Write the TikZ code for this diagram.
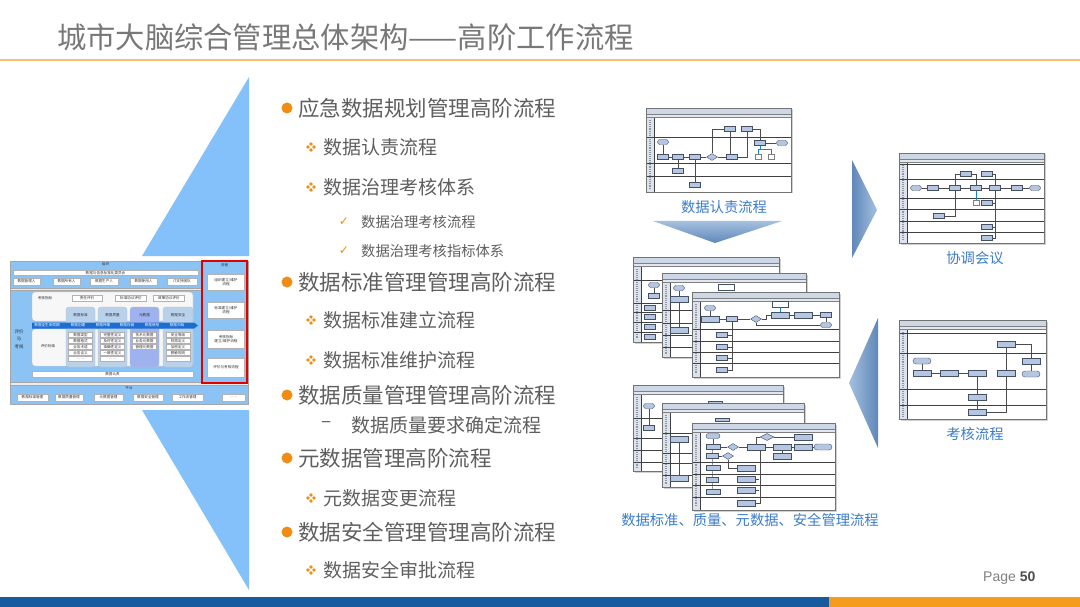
\documentclass[tikz,border=0pt]{standalone}
\usepackage{fontspec}
\setmainfont{Noto Sans CJK SC}
\newfontfamily\arialfont{Liberation Sans}
\newfontfamily\symfont{DejaVu Sans}
\usetikzlibrary{shapes.geometric}
\definecolor{txtgray}{RGB}{95,95,95}
\definecolor{titlegray}{RGB}{120,120,120}
\definecolor{bulletorange}{RGB}{240,140,20}
\definecolor{lineorange}{RGB}{247,190,120}
\definecolor{footblue}{RGB}{22,90,160}
\definecolor{footorange}{RGB}{245,155,30}
\definecolor{tri}{RGB}{132,193,250}
\definecolor{panel}{RGB}{140,195,245}
\definecolor{colfill}{RGB}{185,210,235}
\definecolor{arrowband}{RGB}{30,110,210}
\definecolor{flowlabel}{RGB}{60,125,200}
\definecolor{sheetbar}{RGB}{205,215,230}
\definecolor{boxfill}{RGB}{180,198,225}
\definecolor{boxline}{RGB}{70,80,100}
\definecolor{steel}{RGB}{95,135,185}
\definecolor{steellight}{RGB}{165,192,222}
\tikzset{
  x=1pt, y=-1pt,
  mainitem/.style={anchor=west, inner sep=0, text=txtgray, font=\fontsize{21.5}{22}\selectfont},
  subitem/.style={anchor=west, inner sep=0, text=txtgray, font=\fontsize{19}{20}\selectfont},
  chkitem/.style={anchor=west, inner sep=0, text=txtgray, font=\fontsize{14.3}{15}\selectfont},
  flowlbl/.style={inner sep=0, text=flowlabel, font=\fontsize{14.3}{15}\selectfont},
  bul/.style={circle, fill=bulletorange, minimum size=11, inner sep=0},
  chk/.style={inner sep=0, text=bulletorange, font=\symfont\fontsize{12}{12}\selectfont},
  tt/.style={font=\fontsize{3.6}{4.3}\selectfont, text=black!80, inner sep=0, align=center},
  wb/.style={tt, draw=gray!60, fill=white, line width=0.3},
  fb/.style={draw=boxline, fill=boxfill, line width=0.4, minimum width=11, minimum height=5, inner sep=0},
  fbw/.style={fb, minimum width=18, minimum height=6},
  fbd/.style={fb, line width=0.9},
  fo/.style={fb, rounded corners=2.5},
  fow/.style={fbw, rounded corners=3},
  fd/.style={diamond, draw=boxline, fill=boxfill, line width=0.4, minimum width=11, minimum height=7, inner sep=0},
  fdoc/.style={draw=gray, fill=white, line width=0.4, minimum width=6, minimum height=5, inner sep=0},
  fwb/.style={draw=boxline, fill=white, line width=0.4, minimum width=16, minimum height=6, inner sep=0},
  fl/.style={draw=black!70, line width=0.4},
  flc/.style={draw=cyan!70!blue, line width=0.5},
  laneline/.style={draw=black!75, line width=0.5},
  sheetborder/.style={draw=black!55, line width=0.6},
  quaddia/.pic={\foreach \dx/\dy in {-3/0,3/0,0/-3,0/3} \fill[bulletorange] (\dx,\dy) +(-1.9,0) -- +(0,-1.9) -- +(1.9,0) -- +(0,1.9) -- cycle;}
}
\newcommand\sheetframe[3]{%
  \fill[black!18] (1.5,1.5) rectangle (#1+1.5,#2+1.5);
  \fill[white] (0,0) rectangle (#1,#2);
  \fill[sheetbar] (0,0) rectangle (#1,6);
  \fill[sheetbar!60] (0,6) rectangle (#1,9);
  \fill[sheetbar!70] (0,9) rectangle (8,#2);
  \draw[boxline!60, line width=1.1, dash pattern=on 1 off 0.9] (4,12) -- (4,#2-3);
  \foreach \ly in {#3} \draw[laneline] (0,\ly) -- (#1,\ly);
  \draw[laneline] (8,9) -- (8,#2);
  \draw[black!50, line width=0.4] (0,6) -- (#1,6);
  \draw[black!50, line width=0.4] (0,9) -- (#1,9);
  \draw[sheetborder] (0,0) rectangle (#1,#2);
}
\begin{document}
\begin{tikzpicture}
\useasboundingbox (0,0) rectangle (1080,607);
\fill[white] (0,0) rectangle (1080,607);

% ---------- title ----------
\node[anchor=west, inner sep=0, text=titlegray, font=\fontsize{29.3}{30}\selectfont] (title) at (57,37) {城市大脑综合管理总体架构——高阶工作流程};
\draw[lineorange, line width=2] (0,60) -- (1080,60);

% ---------- footer ----------
\fill[footblue] (0,597) rectangle (829,607);
\fill[footorange] (829,597) rectangle (1080,607);
\node[anchor=west, inner sep=0, font=\arialfont\fontsize{14}{15}\selectfont, text=black!50] (page) at (983,578) {Page {\color{black!70}\textbf{50}}};

% ---------- light blue triangles ----------
\fill[tri] (249,77) -- (249,256) -- (142,256) -- cycle;
\fill[tri] (142,410) -- (249,410) -- (249,590) -- cycle;

% ---------- left architecture diagram ----------
\draw[gray!70, fill=gray!15] (10,261) rectangle (248,404);
\node[draw=gray!70, fill=panel, minimum width=191, minimum height=27, inner sep=0] (orgp) at (105.5,274.5) {};
\node[tt] (orgt) at (105.5,264.5) {组织};
\node[wb, minimum width=185, minimum height=5] (orgc) at (105.5,273) {数据与信息标准化委员会};
\node[wb, minimum width=27, minimum height=7] (r1) at (26.5,281.5) {数据管理人};
\node[wb, minimum width=27, minimum height=7] (r2) at (66.5,281.5) {数据所有人};
\node[wb, minimum width=28, minimum height=7] (r3) at (104,281.5) {数据生产人};
\node[wb, minimum width=27, minimum height=7] (r4) at (143.5,281.5) {数据使用人};
\node[wb, minimum width=30, minimum height=7] (r5) at (182,281.5) {IT支持团队};

\node[draw=gray!70, fill=panel, minimum width=191, minimum height=92, inner sep=0] (evp) at (105.5,336) {};
\node[tt, font=\fontsize{4.5}{7.5}\selectfont] (evt) at (19,339) {评价\\与\\考核};
\draw[rounded corners=3, fill=gray!6, draw=gray!50] (32,292) rectangle (193,321);
\draw[rounded corners=3, fill=gray!6, draw=gray!50] (32,329) rectangle (193,366);
\node[tt] (kz) at (45,298) {考核指标};
\node[wb, minimum width=30, minimum height=6] (zr) at (87,298) {责任评价};
\node[wb, minimum width=31, minimum height=6] (bz) at (131,298) {标准协议评价};
\node[wb, minimum width=31, minimum height=6] (zc) at (169,298) {政策协议评价};
\draw[rounded corners=3, fill=colfill, draw=gray!50] (66,307) rectangle (95,367);
\draw[rounded corners=3, fill=colfill, draw=gray!50] (98,307) rectangle (127,367);
\draw[rounded corners=3, fill=colfill!85!blue, draw=gray!50] (130,307) rectangle (159,367);
\draw[rounded corners=3, fill=colfill, draw=gray!50] (163,307) rectangle (193,367);
\node[tt] (h1) at (80.5,315) {数据标准};
\node[tt] (h2) at (112.5,315) {数据质量};
\node[tt] (h3) at (144.5,315) {元数据};
\node[tt] (h4) at (178,315) {数据安全};
\fill[arrowband] (32,322.5) -- (194,322.5) -- (198,325.5) -- (194,328.5) -- (32,328.5) -- cycle;
\node[tt, text=white] (lc0) at (47,325.5) {数据全生命周期};
\node[tt, text=white] (lc1) at (78,325.5) {数据创建};
\node[tt, text=white] (lc2) at (103,325.5) {数据传输};
\node[tt, text=white] (lc3) at (127,325.5) {数据存储};
\node[tt, text=white] (lc4) at (152,325.5) {数据使用};
\node[tt, text=white] (lc5) at (177,325.5) {数据归档};
\node[tt] (pjbz) at (48,346) {评价标准};
\foreach \t [count=\i] in {数据类型,数据格式,业务术语,业务含义,……}
  \node[wb, minimum width=24, minimum height=5] (ca\i) at (80.5,329+6*\i) {\t};
\foreach \t [count=\i] in {完整性定义,及时性定义,准确性定义,一致性定义,……}
  \node[wb, minimum width=24, minimum height=5] (cb\i) at (112.5,329+6*\i) {\t};
\foreach \t [count=\i] in {技术元数据,业务元数据,管理元数据}
  \node[wb, minimum width=24, minimum height=5] (cc\i) at (144.5,329+6*\i) {\t};
\foreach \t [count=\i] in {安全等级,权限定义,加密定义,脱敏规则,……}
  \node[wb, minimum width=24, minimum height=5] (cd\i) at (178,329+6*\i) {\t};
\node[wb, minimum width=161, minimum height=6] (rz) at (112.5,374) {数据认责};

\node[draw=red!90!black, line width=1.5, fill=panel, minimum width=45, minimum height=122, inner sep=0] (lcp) at (224.5,322) {};
\node[tt] (lct) at (224.5,265.5) {流程};
\node[wb, minimum width=37, minimum height=16] (p1) at (226,282) {组织建立/维护\\流程};
\node[wb, minimum width=37, minimum height=16] (p2) at (226,310) {标准建立/维护\\流程};
\node[wb, minimum width=37, minimum height=18] (p3) at (226,339) {考核指标\\建立/维护流程};
\node[wb, minimum width=37, minimum height=19] (p4) at (226,367.5) {评价与考核流程};

\node[draw=gray!70, fill=panel, minimum width=238, minimum height=19, inner sep=0] (plat) at (129,394.5) {};
\node[tt] (platt) at (129,388.5) {平台};
\node[wb, minimum width=31, minimum height=7] (q1) at (32.5,397.5) {数据标准管理};
\node[wb, minimum width=28, minimum height=7] (q2) at (69,397.5) {数据质量管理};
\node[wb, minimum width=29, minimum height=7] (q3) at (108.5,397.5) {元数据管理};
\node[wb, minimum width=30, minimum height=7] (q4) at (148,397.5) {数据安全管理};
\node[wb, minimum width=31, minimum height=7] (q5) at (187.5,397.5) {工作流管理};
\node[wb, minimum width=23, minimum height=7] (q6) at (233.5,397.5) {……};

% ---------- bullet list ----------
\node[bul] (m1b) at (287,108) {};
\node[mainitem] (m1) at (298,108) {应急数据规划管理高阶流程};
\pic at (311,147) {quaddia};
\node[subitem] (s1) at (323,147) {数据认责流程};
\pic at (311,187) {quaddia};
\node[subitem] (s2) at (323,187) {数据治理考核体系};
\node[chk] (c1b) at (344,222) {✓};
\node[chkitem] (c1) at (361,222) {数据治理考核流程};
\node[chk] (c2b) at (344,251) {✓};
\node[chkitem] (c2) at (361,251) {数据治理考核指标体系};
\node[bul] (m2b) at (287,282) {};
\node[mainitem] (m2) at (298,282) {数据标准管理管理高阶流程};
\pic at (311,320) {quaddia};
\node[subitem] (s3) at (323,320) {数据标准建立流程};
\pic at (311,360) {quaddia};
\node[subitem] (s4) at (323,360) {数据标准维护流程};
\node[bul] (m3b) at (287,395) {};
\node[mainitem] (m3) at (298,395) {数据质量管理管理高阶流程};
\node[subitem] (d1b) at (321,425) {–};
\node[subitem] (d1) at (351,425) {数据质量要求确定流程};
\node[bul] (m4b) at (287,458) {};
\node[mainitem] (m4) at (298,458) {元数据管理高阶流程};
\pic at (311,498) {quaddia};
\node[subitem] (s5) at (323,498) {元数据变更流程};
\node[bul] (m5b) at (287,532) {};
\node[mainitem] (m5) at (298,532) {数据安全管理管理高阶流程};
\pic at (311,570) {quaddia};
\node[subitem] (s6) at (323,570) {数据安全审批流程};

% ---------- arrows between thumbnails ----------
\shade[top color=steellight, bottom color=steel] (653,221) -- (782,221) -- (715,243) -- cycle;
\shade[left color=steel, right color=steellight] (852,160) -- (877,210) -- (852,258) -- cycle;
\shade[right color=steel, left color=steellight] (878,318) -- (849,383) -- (878,448) -- cycle;

% ---------- thumbnail 1: 数据认责流程 ----------
\begin{scope}[shift={(646,108)}]
\sheetframe{145}{84}{29,55,68}
\node[fo] (t1s) at (17,34) {};
\node[fb] (t1b1) at (17,49) {};
\node[fb] (t1b2) at (32,49) {};
\node[fb] (t1b3) at (49,49) {};
\node[fd] (t1d) at (66,49) {};
\node[fb] (t1b4) at (86,49) {};
\node[fb] (t1b5) at (84,21) {};
\node[fb] (t1b6) at (101,21) {};
\node[fb] (t1b7) at (114,35) {};
\node[fo] (t1e) at (136,35) {};
\node[fdoc] (t1c1) at (112,49) {};
\node[fdoc] (t1c2) at (125,49) {};
\node[fb] (t1b8) at (32,63) {};
\node[fb] (t1b9) at (49,77) {};
\draw[fl] (t1s) -- (t1b1);
\draw[fl] (t1b1) -- (t1b2);
\draw[fl] (t1b2) -- (t1b3);
\draw[fl] (t1b3) -- (t1d);
\draw[fl] (t1d) -- (t1b4);
\draw[fl] (t1b2) -- (t1b8);
\draw[fl] (t1b3) -- (t1b9);
\draw[fl] (t1d.north) |- (t1b5.west);
\draw[fl] (t1b5.south) -- (t1b5.south |- t1b4.north);
\draw[fl] (t1b4.east) -| (t1b6.south);
\draw[fl] (t1b6.east) -| (t1b7.north);
\draw[fl] (t1b7) -- (t1e);
\draw[flc] (t1b7.south) -- ++(0,4) -| (t1c1.north);
\draw[flc] (t1b7.south) -- ++(0,4) -| (t1c2.north);
\end{scope}
\node[flowlbl] (l1) at (724,207) {数据认责流程};

% ---------- thumbnail 2: 协调会议 ----------
\begin{scope}[shift={(899,153)}]
\sheetframe{145}{90}{11,26,45,56,68,79}
\node[fo] (t2o1) at (17,35) {};
\node[fb] (t2c1) at (34,35) {};
\node[fb] (t2c2) at (56,35) {};
\node[fb] (t2c3) at (77,35) {};
\node[fb] (t2c4) at (96,35) {};
\node[fb] (t2c5) at (118,35) {};
\node[fo] (t2o2) at (136,35) {};
\node[fb] (t2c6) at (67,21) {};
\node[fb] (t2c7) at (88,21) {};
\node[fdoc] (t2doc) at (77,50) {};
\node[fb] (t2c8) at (88,50) {};
\node[fb] (t2c9) at (40,63) {};
\node[fb] (t2c10) at (88,74) {};
\node[fb] (t2c11) at (88,85) {};
\draw[fl] (t2o1) -- (t2c1);
\draw[fl] (t2c1) -- (t2c2);
\draw[fl] (t2c2) -- (t2c3);
\draw[fl] (t2c3) -- (t2c4);
\draw[fl] (t2c4) -- (t2c5);
\draw[fl] (t2c5) -- (t2o2);
\draw[fl] (t2c2.north) |- (t2c6.west);
\draw[fl] (t2c6.east) -| (t2c3.north);
\draw[fl] (t2c7.east) -| (t2c4.north);
\draw[fl] (t2c9.east) -| (t2c2.south);
\draw[flc] (t2c3.south) -- (t2doc.north);
\draw[fl] (t2c4.south) |- (t2c8.east);
\draw[fl] (t2c4.south) |- (t2c10.east);
\draw[fl] (t2c4.south) |- (t2c11.east);
\end{scope}
\node[flowlbl] (l2) at (975,258) {协调会议};

% ---------- thumbnail 3: 考核流程 ----------
\begin{scope}[shift={(899,320)}]
\sheetframe{147}{99}{13,33,69,85}
\node[fbw] (t3k1) at (107,24) {};
\node[fow] (t3o1) at (23,41) {};
\node[fbw] (t3k2) at (23,53) {};
\node[fbw] (t3k3) at (50,53) {};
\node[fbw] (t3k4) at (78,53) {};
\node[fbw] (t3k5) at (107,53) {};
\node[fbw] (t3k6) at (132,41) {};
\node[fow] (t3o2) at (132,54) {};
\node[fbw] (t3k7) at (78,77) {};
\node[fbw] (t3k8) at (78,92) {};
\draw[fl] (t3o1) -- (t3k2);
\draw[fl] (t3k2) -- (t3k3);
\draw[fl] (t3k3) -- (t3k4);
\draw[fl] (t3k4) -- (t3k7);
\draw[fl] (t3k7) -- (t3k8);
\draw[fl] (t3k8.east) -| (t3k5.south);
\draw[fl] (t3k5) -- (t3k1);
\draw[fl] (t3k1.east) -| (t3k6.north);
\draw[fl] (t3k6) -- (t3o2);
\end{scope}
\node[flowlbl] (l3) at (975,434) {考核流程};

% ---------- stacked sheets A ----------
\begin{scope}[shift={(633,257)}]
\sheetframe{146}{85}{23,46,55,65,75}
\node[fo] (a1o) at (21,28) {};
\node[fb] (a1b) at (21,39) {};
\node[fb] (a1l1) at (17,51) {};
\node[fb] (a1l2) at (17,60) {};
\node[fb] (a1l3) at (17,70) {};
\node[fb] (a1l4) at (17,80) {};
\draw[fl] (a1o) -- (a1b);
\end{scope}
\begin{scope}[shift={(662,273)}]
\sheetframe{144}{84}{37,50,62,74}
\node[fo] (a2o) at (17,15) {};
\node[fbw] (a2b) at (17,26) {};
\node[fbw] (a2c) at (17,57) {};
\node[fwb] (a2w) at (64,14) {};
\draw[fl] (a2o) -- (a2b);
\draw[fl] (a2b) -- (a2c);
\end{scope}
\begin{scope}[shift={(692,292)}]
\sheetframe{147}{85}{37,49,60,71}
\node[fo] (a3o) at (18,16) {};
\node[fbw] (a3b1) at (18,27) {};
\node[fb] (a3b2) at (40,27) {};
\node[fd] (a3d) at (64,27) {};
\node[fbw] (a3b3) at (88,23) {};
\node[fwb] (a3w) at (88,12) {};
\node[fbw] (a3b4) at (111,23) {};
\node[fb] (a3b5) at (134,23) {};
\node[fo] (a3e) at (134,33) {};
\node[fb] (a3l1) at (30,43) {};
\node[fb] (a3l2) at (30,55) {};
\node[fb] (a3l3) at (30,66) {};
\node[fb] (a3l4) at (30,78) {};
\draw[fl] (a3o) -- (a3b1);
\draw[fl] (a3b1) -- (a3b2);
\draw[fl] (a3b2) -- (a3d);
\draw[fl] (a3d.east) -- ++(4,0) |- (a3b3.west);
\draw[fl] (a3b3) -- (a3b4);
\draw[fl] (a3b4) -- (a3b5);
\draw[fl] (a3b5) -- (a3e);
\draw[fl] (a3e.west) -| (a3d.south);
\draw[flc] (a3w) -- (a3b3);
\draw[fl] (a3b2.south) |- (a3l4.east);
\draw[fl] (a3b2.south) |- (a3l1.east);
\draw[fl] (a3b2.south) |- (a3l2.east);
\draw[fl] (a3b2.south) |- (a3l3.east);
\end{scope}

% ---------- stacked sheets B ----------
\begin{scope}[shift={(633,385)}]
\sheetframe{150}{86}{33,53,65,77}
\node[fo] (b1o) at (16,21) {};
\node[fb] (b1b) at (16,43) {};
\node[fb, minimum width=14, minimum height=3] (b1t) at (82,18) {};
\draw[fl] (b1o) -- (b1b);
\draw[fl] (b1t.east) -- ++(30,0);
\end{scope}
\begin{scope}[shift={(662,403)}]
\sheetframe{142}{84}{30,50,60,72}
\node[fbw] (b2a) at (17,36) {};
\node[fbw] (b2b) at (17,75) {};
\node[fb, minimum width=14, minimum height=3] (b2t) at (60,17) {};
\draw[fl] (b2a) -- (b2b);
\end{scope}
\begin{scope}[shift={(692,423)}]
\sheetframe{143}{87}{39,51,62,74}
\node[fo, minimum width=14] (b3o) at (21,13) {};
\node[fbd, minimum width=14] (b3c1) at (21,24) {};
\node[fb, minimum width=12] (b3c2) at (20,33) {};
\node[fbd, minimum width=14] (b3c3) at (21,45) {};
\node[fb, minimum width=12] (b3c4) at (20,57) {};
\node[fbd, minimum width=14] (b3c5) at (21,69) {};
\node[fd] (b3d1) at (41,24) {};
\node[fd] (b3d2) at (36,33) {};
\node[fd, minimum width=14] (b3d3) at (75,14) {};
\node[fbw] (b3c6) at (64,24) {};
\node[fbw] (b3c7) at (90,24) {};
\node[fbw] (b3c8) at (111,24) {};
\node[fow] (b3e) at (131,24) {};
\node[fbw] (b3c9) at (90,33) {};
\node[fbw] (b3c10) at (111,14) {};
\node[fbw] (b3l1) at (54,45) {};
\node[fbw] (b3l2) at (54,56) {};
\node[fbw] (b3l3) at (54,67) {};
\node[fbw] (b3l4) at (54,80) {};
\draw[fl] (b3o) -- (b3c1);
\draw[fl] (b3c1) -- (b3d1);
\draw[fl] (b3d1) -- (b3c6);
\draw[fl] (b3c6) -- (b3c7);
\draw[fl] (b3c7) -- (b3c8);
\draw[fl] (b3c8) -- (b3e);
\draw[fl] (b3c6.north) |- (b3d3.west);
\draw[fl] (b3d3.east) -- (b3c10.west);
\draw[fl] (b3c7) -- (b3c9);
\draw[fl] (b3c1) -- (b3c2);
\draw[fl] (b3c2) -- (b3d2);
\draw[fl] (b3d2.south) |- (b3l1.west);
\draw[fl] (b3c2) -- (b3c3);
\draw[fl] (b3c3) -- (b3c4);
\draw[fl] (b3c4) -- (b3c5);
\draw[fl] (b3c6.south) -- ++(4,0) |- (b3l4.east);
\draw[fl] (b3l2.east) -- ++(4,0);
\draw[fl] (b3l3.east) -- ++(4,0);
\end{scope}
\node[flowlbl] (l4) at (750,520) {数据标准、质量、元数据、安全管理流程};

\end{tikzpicture}
\end{document}
